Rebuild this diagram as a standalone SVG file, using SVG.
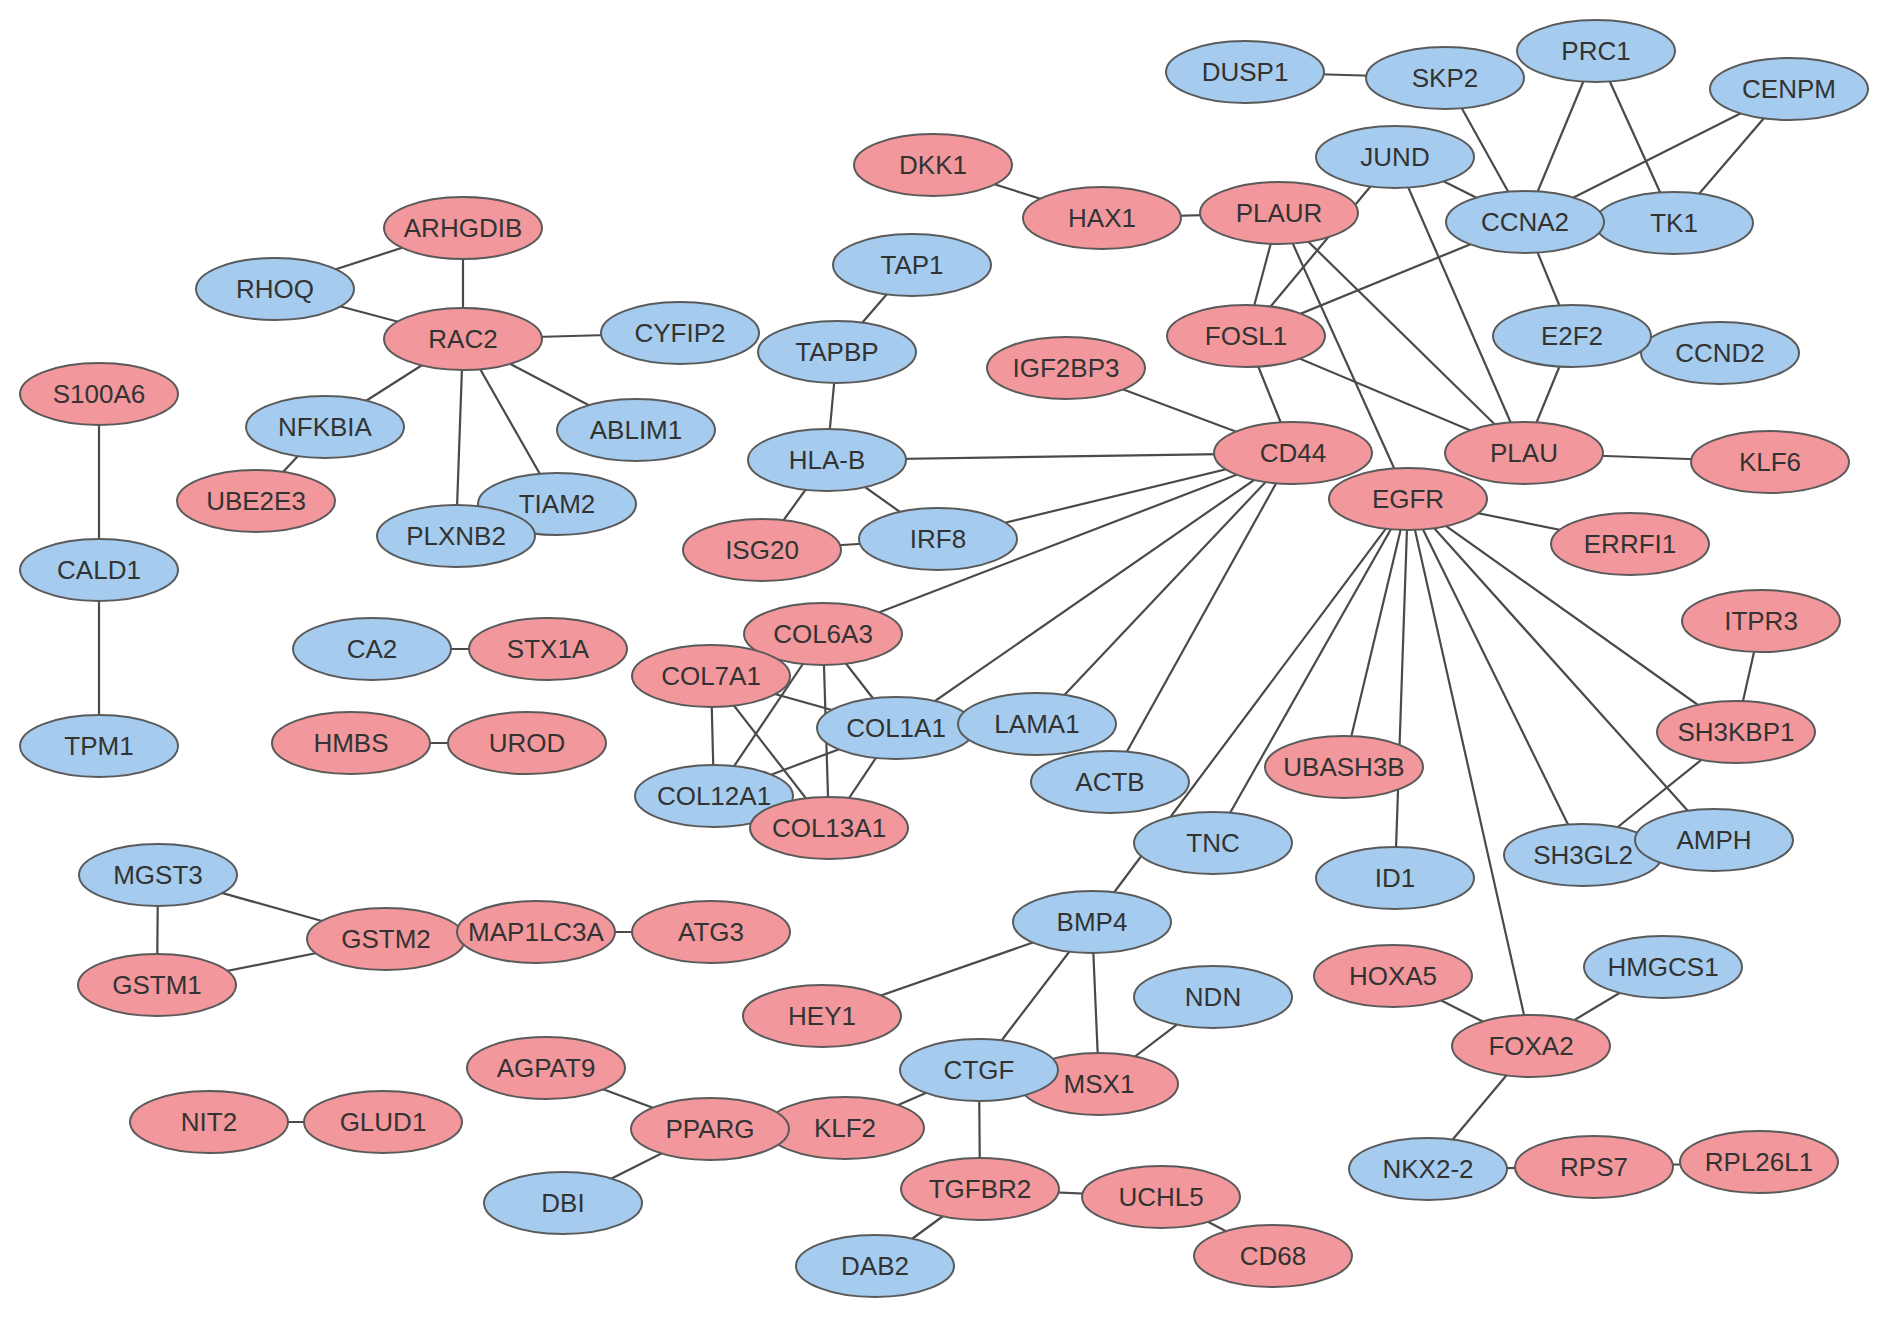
<svg xmlns="http://www.w3.org/2000/svg" width="1890" height="1317" viewBox="0 0 1890 1317">
<style>
.e{stroke:#4a4a4a;stroke-width:2.2;fill:none}
.r{fill:#F2979B;stroke:#5a5a5a;stroke-width:2}
.b{fill:#A5CCEE;stroke:#5a5a5a;stroke-width:2}
text{font-family:"Liberation Sans",Arial,sans-serif;font-size:26px;fill:#333;text-anchor:middle}
</style>
<rect width="1890" height="1317" fill="#fff"/>
<g id="edges" class="e">
<line x1="1245" y1="72" x2="1445" y2="78"/>
<line x1="1445" y1="78" x2="1525" y2="222"/>
<line x1="1596" y1="51" x2="1525" y2="222"/>
<line x1="1596" y1="51" x2="1674" y2="223"/>
<line x1="1789" y1="89" x2="1525" y2="222"/>
<line x1="1789" y1="89" x2="1674" y2="223"/>
<line x1="1395" y1="157" x2="1525" y2="222"/>
<line x1="1395" y1="157" x2="1246" y2="336"/>
<line x1="1395" y1="157" x2="1524" y2="453"/>
<line x1="933" y1="165" x2="1102" y2="218"/>
<line x1="1102" y1="218" x2="1279" y2="213"/>
<line x1="1279" y1="213" x2="1246" y2="336"/>
<line x1="1279" y1="213" x2="1408" y2="499"/>
<line x1="1279" y1="213" x2="1524" y2="453"/>
<line x1="1525" y1="222" x2="1246" y2="336"/>
<line x1="1525" y1="222" x2="1572" y2="336"/>
<line x1="1572" y1="336" x2="1720" y2="353"/>
<line x1="1572" y1="336" x2="1524" y2="453"/>
<line x1="1246" y1="336" x2="1293" y2="453"/>
<line x1="1246" y1="336" x2="1524" y2="453"/>
<line x1="1066" y1="368" x2="1293" y2="453"/>
<line x1="1524" y1="453" x2="1770" y2="462"/>
<line x1="1408" y1="499" x2="1630" y2="544"/>
<line x1="463" y1="228" x2="275" y2="289"/>
<line x1="463" y1="228" x2="463" y2="339"/>
<line x1="275" y1="289" x2="463" y2="339"/>
<line x1="463" y1="339" x2="680" y2="333"/>
<line x1="463" y1="339" x2="325" y2="427"/>
<line x1="463" y1="339" x2="636" y2="430"/>
<line x1="463" y1="339" x2="557" y2="504"/>
<line x1="463" y1="339" x2="456" y2="536"/>
<line x1="325" y1="427" x2="256" y2="501"/>
<line x1="912" y1="265" x2="837" y2="352"/>
<line x1="837" y1="352" x2="827" y2="460"/>
<line x1="827" y1="460" x2="1293" y2="453"/>
<line x1="827" y1="460" x2="762" y2="550"/>
<line x1="827" y1="460" x2="938" y2="539"/>
<line x1="762" y1="550" x2="938" y2="539"/>
<line x1="938" y1="539" x2="1293" y2="453"/>
<line x1="99" y1="394" x2="99" y2="570"/>
<line x1="99" y1="570" x2="99" y2="746"/>
<line x1="372" y1="649" x2="548" y2="649"/>
<line x1="351" y1="743" x2="527" y2="743"/>
<line x1="1293" y1="453" x2="823" y2="634"/>
<line x1="1293" y1="453" x2="896" y2="728"/>
<line x1="1293" y1="453" x2="1037" y2="724"/>
<line x1="1293" y1="453" x2="1110" y2="782"/>
<line x1="1408" y1="499" x2="1092" y2="922"/>
<line x1="1408" y1="499" x2="1213" y2="843"/>
<line x1="1408" y1="499" x2="1344" y2="767"/>
<line x1="1408" y1="499" x2="1395" y2="878"/>
<line x1="1408" y1="499" x2="1531" y2="1046"/>
<line x1="1408" y1="499" x2="1583" y2="855"/>
<line x1="1408" y1="499" x2="1714" y2="840"/>
<line x1="1408" y1="499" x2="1736" y2="732"/>
<line x1="1761" y1="621" x2="1736" y2="732"/>
<line x1="1736" y1="732" x2="1583" y2="855"/>
<line x1="823" y1="634" x2="896" y2="728"/>
<line x1="823" y1="634" x2="714" y2="796"/>
<line x1="823" y1="634" x2="829" y2="828"/>
<line x1="711" y1="676" x2="714" y2="796"/>
<line x1="711" y1="676" x2="896" y2="728"/>
<line x1="711" y1="676" x2="829" y2="828"/>
<line x1="714" y1="796" x2="896" y2="728"/>
<line x1="829" y1="828" x2="896" y2="728"/>
<line x1="158" y1="875" x2="386" y2="939"/>
<line x1="158" y1="875" x2="157" y2="985"/>
<line x1="157" y1="985" x2="386" y2="939"/>
<line x1="536" y1="932" x2="711" y2="932"/>
<line x1="209" y1="1122" x2="383" y2="1122"/>
<line x1="546" y1="1068" x2="710" y2="1129"/>
<line x1="710" y1="1129" x2="563" y2="1203"/>
<line x1="845" y1="1128" x2="979" y2="1070"/>
<line x1="1092" y1="922" x2="822" y2="1016"/>
<line x1="1092" y1="922" x2="979" y2="1070"/>
<line x1="1092" y1="922" x2="1099" y2="1084"/>
<line x1="1213" y1="997" x2="1099" y2="1084"/>
<line x1="979" y1="1070" x2="980" y2="1189"/>
<line x1="980" y1="1189" x2="1161" y2="1197"/>
<line x1="980" y1="1189" x2="875" y2="1266"/>
<line x1="1161" y1="1197" x2="1273" y2="1256"/>
<line x1="1393" y1="976" x2="1531" y2="1046"/>
<line x1="1663" y1="967" x2="1531" y2="1046"/>
<line x1="1531" y1="1046" x2="1428" y2="1169"/>
<line x1="1428" y1="1169" x2="1594" y2="1167"/>
<line x1="1594" y1="1167" x2="1759" y2="1162"/>
</g>
<g id="n-DUSP1"><ellipse class="b" cx="1245" cy="72" rx="79" ry="31"/><text x="1245" y="81">DUSP1</text></g>
<g id="n-SKP2"><ellipse class="b" cx="1445" cy="78" rx="79" ry="31"/><text x="1445" y="87">SKP2</text></g>
<g id="n-PRC1"><ellipse class="b" cx="1596" cy="51" rx="79" ry="31"/><text x="1596" y="60">PRC1</text></g>
<g id="n-CENPM"><ellipse class="b" cx="1789" cy="89" rx="79" ry="31"/><text x="1789" y="98">CENPM</text></g>
<g id="n-JUND"><ellipse class="b" cx="1395" cy="157" rx="79" ry="31"/><text x="1395" y="166">JUND</text></g>
<g id="n-DKK1"><ellipse class="r" cx="933" cy="165" rx="79" ry="31"/><text x="933" y="174">DKK1</text></g>
<g id="n-HAX1"><ellipse class="r" cx="1102" cy="218" rx="79" ry="31"/><text x="1102" y="227">HAX1</text></g>
<g id="n-PLAUR"><ellipse class="r" cx="1279" cy="213" rx="79" ry="31"/><text x="1279" y="222">PLAUR</text></g>
<g id="n-TK1"><ellipse class="b" cx="1674" cy="223" rx="79" ry="31"/><text x="1674" y="232">TK1</text></g>
<g id="n-CCNA2"><ellipse class="b" cx="1525" cy="222" rx="79" ry="31"/><text x="1525" y="231">CCNA2</text></g>
<g id="n-ARHGDIB"><ellipse class="r" cx="463" cy="228" rx="79" ry="31"/><text x="463" y="237">ARHGDIB</text></g>
<g id="n-TAP1"><ellipse class="b" cx="912" cy="265" rx="79" ry="31"/><text x="912" y="274">TAP1</text></g>
<g id="n-RHOQ"><ellipse class="b" cx="275" cy="289" rx="79" ry="31"/><text x="275" y="298">RHOQ</text></g>
<g id="n-RAC2"><ellipse class="r" cx="463" cy="339" rx="79" ry="31"/><text x="463" y="348">RAC2</text></g>
<g id="n-CYFIP2"><ellipse class="b" cx="680" cy="333" rx="79" ry="31"/><text x="680" y="342">CYFIP2</text></g>
<g id="n-TAPBP"><ellipse class="b" cx="837" cy="352" rx="79" ry="31"/><text x="837" y="361">TAPBP</text></g>
<g id="n-FOSL1"><ellipse class="r" cx="1246" cy="336" rx="79" ry="31"/><text x="1246" y="345">FOSL1</text></g>
<g id="n-CCND2"><ellipse class="b" cx="1720" cy="353" rx="79" ry="31"/><text x="1720" y="362">CCND2</text></g>
<g id="n-E2F2"><ellipse class="b" cx="1572" cy="336" rx="79" ry="31"/><text x="1572" y="345">E2F2</text></g>
<g id="n-IGF2BP3"><ellipse class="r" cx="1066" cy="368" rx="79" ry="31"/><text x="1066" y="377">IGF2BP3</text></g>
<g id="n-S100A6"><ellipse class="r" cx="99" cy="394" rx="79" ry="31"/><text x="99" y="403">S100A6</text></g>
<g id="n-NFKBIA"><ellipse class="b" cx="325" cy="427" rx="79" ry="31"/><text x="325" y="436">NFKBIA</text></g>
<g id="n-ABLIM1"><ellipse class="b" cx="636" cy="430" rx="79" ry="31"/><text x="636" y="439">ABLIM1</text></g>
<g id="n-HLA-B"><ellipse class="b" cx="827" cy="460" rx="79" ry="31"/><text x="827" y="469">HLA-B</text></g>
<g id="n-CD44"><ellipse class="r" cx="1293" cy="453" rx="79" ry="31"/><text x="1293" y="462">CD44</text></g>
<g id="n-PLAU"><ellipse class="r" cx="1524" cy="453" rx="79" ry="31"/><text x="1524" y="462">PLAU</text></g>
<g id="n-KLF6"><ellipse class="r" cx="1770" cy="462" rx="79" ry="31"/><text x="1770" y="471">KLF6</text></g>
<g id="n-EGFR"><ellipse class="r" cx="1408" cy="499" rx="79" ry="31"/><text x="1408" y="508">EGFR</text></g>
<g id="n-UBE2E3"><ellipse class="r" cx="256" cy="501" rx="79" ry="31"/><text x="256" y="510">UBE2E3</text></g>
<g id="n-TIAM2"><ellipse class="b" cx="557" cy="504" rx="79" ry="31"/><text x="557" y="513">TIAM2</text></g>
<g id="n-PLXNB2"><ellipse class="b" cx="456" cy="536" rx="79" ry="31"/><text x="456" y="545">PLXNB2</text></g>
<g id="n-IRF8"><ellipse class="b" cx="938" cy="539" rx="79" ry="31"/><text x="938" y="548">IRF8</text></g>
<g id="n-ISG20"><ellipse class="r" cx="762" cy="550" rx="79" ry="31"/><text x="762" y="559">ISG20</text></g>
<g id="n-ERRFI1"><ellipse class="r" cx="1630" cy="544" rx="79" ry="31"/><text x="1630" y="553">ERRFI1</text></g>
<g id="n-CALD1"><ellipse class="b" cx="99" cy="570" rx="79" ry="31"/><text x="99" y="579">CALD1</text></g>
<g id="n-ITPR3"><ellipse class="r" cx="1761" cy="621" rx="79" ry="31"/><text x="1761" y="630">ITPR3</text></g>
<g id="n-COL6A3"><ellipse class="r" cx="823" cy="634" rx="79" ry="31"/><text x="823" y="643">COL6A3</text></g>
<g id="n-CA2"><ellipse class="b" cx="372" cy="649" rx="79" ry="31"/><text x="372" y="658">CA2</text></g>
<g id="n-STX1A"><ellipse class="r" cx="548" cy="649" rx="79" ry="31"/><text x="548" y="658">STX1A</text></g>
<g id="n-COL7A1"><ellipse class="r" cx="711" cy="676" rx="79" ry="31"/><text x="711" y="685">COL7A1</text></g>
<g id="n-COL1A1"><ellipse class="b" cx="896" cy="728" rx="79" ry="31"/><text x="896" y="737">COL1A1</text></g>
<g id="n-LAMA1"><ellipse class="b" cx="1037" cy="724" rx="79" ry="31"/><text x="1037" y="733">LAMA1</text></g>
<g id="n-SH3KBP1"><ellipse class="r" cx="1736" cy="732" rx="79" ry="31"/><text x="1736" y="741">SH3KBP1</text></g>
<g id="n-TPM1"><ellipse class="b" cx="99" cy="746" rx="79" ry="31"/><text x="99" y="755">TPM1</text></g>
<g id="n-HMBS"><ellipse class="r" cx="351" cy="743" rx="79" ry="31"/><text x="351" y="752">HMBS</text></g>
<g id="n-UROD"><ellipse class="r" cx="527" cy="743" rx="79" ry="31"/><text x="527" y="752">UROD</text></g>
<g id="n-UBASH3B"><ellipse class="r" cx="1344" cy="767" rx="79" ry="31"/><text x="1344" y="776">UBASH3B</text></g>
<g id="n-ACTB"><ellipse class="b" cx="1110" cy="782" rx="79" ry="31"/><text x="1110" y="791">ACTB</text></g>
<g id="n-COL12A1"><ellipse class="b" cx="714" cy="796" rx="79" ry="31"/><text x="714" y="805">COL12A1</text></g>
<g id="n-COL13A1"><ellipse class="r" cx="829" cy="828" rx="79" ry="31"/><text x="829" y="837">COL13A1</text></g>
<g id="n-TNC"><ellipse class="b" cx="1213" cy="843" rx="79" ry="31"/><text x="1213" y="852">TNC</text></g>
<g id="n-SH3GL2"><ellipse class="b" cx="1583" cy="855" rx="79" ry="31"/><text x="1583" y="864">SH3GL2</text></g>
<g id="n-AMPH"><ellipse class="b" cx="1714" cy="840" rx="79" ry="31"/><text x="1714" y="849">AMPH</text></g>
<g id="n-ID1"><ellipse class="b" cx="1395" cy="878" rx="79" ry="31"/><text x="1395" y="887">ID1</text></g>
<g id="n-MGST3"><ellipse class="b" cx="158" cy="875" rx="79" ry="31"/><text x="158" y="884">MGST3</text></g>
<g id="n-GSTM2"><ellipse class="r" cx="386" cy="939" rx="79" ry="31"/><text x="386" y="948">GSTM2</text></g>
<g id="n-MAP1LC3A"><ellipse class="r" cx="536" cy="932" rx="79" ry="31"/><text x="536" y="941">MAP1LC3A</text></g>
<g id="n-ATG3"><ellipse class="r" cx="711" cy="932" rx="79" ry="31"/><text x="711" y="941">ATG3</text></g>
<g id="n-BMP4"><ellipse class="b" cx="1092" cy="922" rx="79" ry="31"/><text x="1092" y="931">BMP4</text></g>
<g id="n-HOXA5"><ellipse class="r" cx="1393" cy="976" rx="79" ry="31"/><text x="1393" y="985">HOXA5</text></g>
<g id="n-HMGCS1"><ellipse class="b" cx="1663" cy="967" rx="79" ry="31"/><text x="1663" y="976">HMGCS1</text></g>
<g id="n-NDN"><ellipse class="b" cx="1213" cy="997" rx="79" ry="31"/><text x="1213" y="1006">NDN</text></g>
<g id="n-GSTM1"><ellipse class="r" cx="157" cy="985" rx="79" ry="31"/><text x="157" y="994">GSTM1</text></g>
<g id="n-HEY1"><ellipse class="r" cx="822" cy="1016" rx="79" ry="31"/><text x="822" y="1025">HEY1</text></g>
<g id="n-FOXA2"><ellipse class="r" cx="1531" cy="1046" rx="79" ry="31"/><text x="1531" y="1055">FOXA2</text></g>
<g id="n-MSX1"><ellipse class="r" cx="1099" cy="1084" rx="79" ry="31"/><text x="1099" y="1093">MSX1</text></g>
<g id="n-CTGF"><ellipse class="b" cx="979" cy="1070" rx="79" ry="31"/><text x="979" y="1079">CTGF</text></g>
<g id="n-AGPAT9"><ellipse class="r" cx="546" cy="1068" rx="79" ry="31"/><text x="546" y="1077">AGPAT9</text></g>
<g id="n-NIT2"><ellipse class="r" cx="209" cy="1122" rx="79" ry="31"/><text x="209" y="1131">NIT2</text></g>
<g id="n-GLUD1"><ellipse class="r" cx="383" cy="1122" rx="79" ry="31"/><text x="383" y="1131">GLUD1</text></g>
<g id="n-KLF2"><ellipse class="r" cx="845" cy="1128" rx="79" ry="31"/><text x="845" y="1137">KLF2</text></g>
<g id="n-PPARG"><ellipse class="r" cx="710" cy="1129" rx="79" ry="31"/><text x="710" y="1138">PPARG</text></g>
<g id="n-DBI"><ellipse class="b" cx="563" cy="1203" rx="79" ry="31"/><text x="563" y="1212">DBI</text></g>
<g id="n-TGFBR2"><ellipse class="r" cx="980" cy="1189" rx="79" ry="31"/><text x="980" y="1198">TGFBR2</text></g>
<g id="n-UCHL5"><ellipse class="r" cx="1161" cy="1197" rx="79" ry="31"/><text x="1161" y="1206">UCHL5</text></g>
<g id="n-NKX2-2"><ellipse class="b" cx="1428" cy="1169" rx="79" ry="31"/><text x="1428" y="1178">NKX2-2</text></g>
<g id="n-RPS7"><ellipse class="r" cx="1594" cy="1167" rx="79" ry="31"/><text x="1594" y="1176">RPS7</text></g>
<g id="n-RPL26L1"><ellipse class="r" cx="1759" cy="1162" rx="79" ry="31"/><text x="1759" y="1171">RPL26L1</text></g>
<g id="n-DAB2"><ellipse class="b" cx="875" cy="1266" rx="79" ry="31"/><text x="875" y="1275">DAB2</text></g>
<g id="n-CD68"><ellipse class="r" cx="1273" cy="1256" rx="79" ry="31"/><text x="1273" y="1265">CD68</text></g>
</svg>
